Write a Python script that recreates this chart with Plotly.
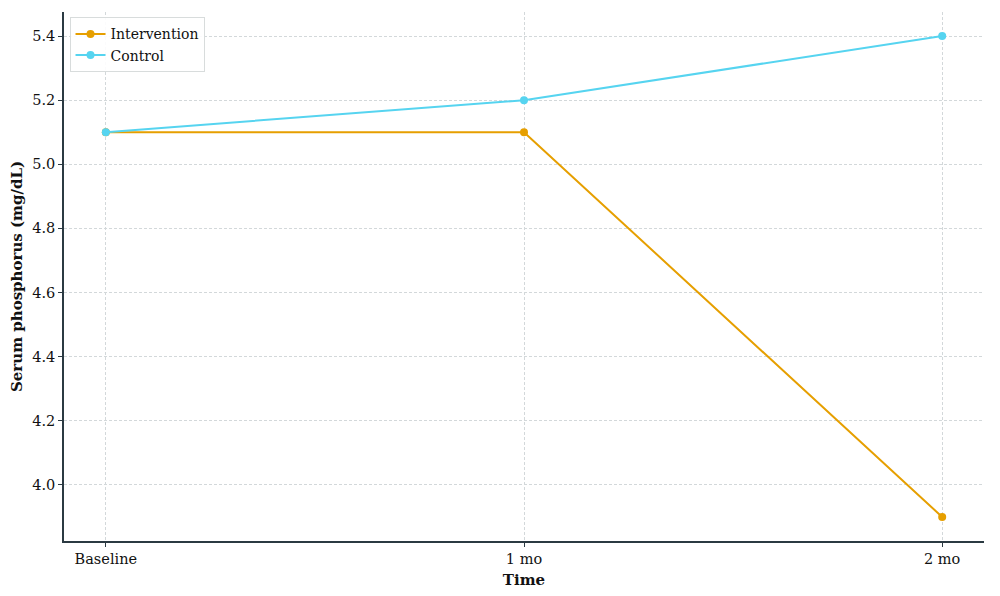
import plotly.graph_objects as go

times = ["Baseline", "1 mo", "2 mo"]
intervention = [5.1, 5.1, 3.9]
control = [5.1, 5.2, 5.4]
y_ticks = [4.0, 4.2, 4.4, 4.6, 4.8, 5.0, 5.2, 5.4]

FONT = "DejaVu Serif"
x_idx = list(range(len(times)))

fig = go.Figure()
fig.add_trace(go.Scatter(x=x_idx, y=intervention, mode="lines+markers", name="Intervention",
                         line=dict(color="#E69F00", width=2), marker=dict(size=8, color="#E69F00")))
fig.add_trace(go.Scatter(x=x_idx, y=control, mode="lines+markers", name="Control",
                         line=dict(color="#56D4F0", width=2), marker=dict(size=8, color="#56D4F0")))

fig.update_layout(
    width=1000, height=596,
    margin=dict(l=64, r=16, t=12, b=55, autoexpand=False),
    paper_bgcolor="white", plot_bgcolor="white",
    font=dict(family=FONT, size=14, color="#111"),
    showlegend=True,
    legend=dict(x=0.006, y=0.99, xanchor="left", yanchor="top",
                bgcolor="rgba(255,255,255,0.9)", bordercolor="#d8dcdc", borderwidth=1,
                font=dict(family=FONT, size=14), itemwidth=30, tracegroupgap=0),
    xaxis=dict(range=[-0.1, 2.1], tickmode="array", tickvals=x_idx, ticktext=times,
               tickfont=dict(size=14.5),
               showline=True, linecolor="#2b3a42", linewidth=1.5, ticks="outside", ticklen=4,
               tickcolor="#2b3a42", showgrid=True, gridcolor="#d3d8da", griddash="3px,2px", gridwidth=1,
               zeroline=False, mirror=False, automargin=False,
               title=dict(text="<b>Time</b>", font=dict(family=FONT, size=15), standoff=8)),
    yaxis=dict(range=[3.825, 5.475], tickmode="array", tickvals=y_ticks,
               ticktext=[f"{v:.1f}" for v in y_ticks], tickfont=dict(size=14.5),
               showline=True, linecolor="#2b3a42", linewidth=1.5, ticks="outside", ticklen=4,
               tickcolor="#2b3a42", showgrid=True, gridcolor="#d3d8da", griddash="3px,2px", gridwidth=1,
               zeroline=False, mirror=False, automargin=False,
               title=dict(text="<b>Serum phosphorus (mg/dL)</b>", font=dict(family=FONT, size=15), standoff=6)),
)

fig.write_html("out.html", config={"displayModeBar": False},
               post_script="document.body.style.margin='0';")
